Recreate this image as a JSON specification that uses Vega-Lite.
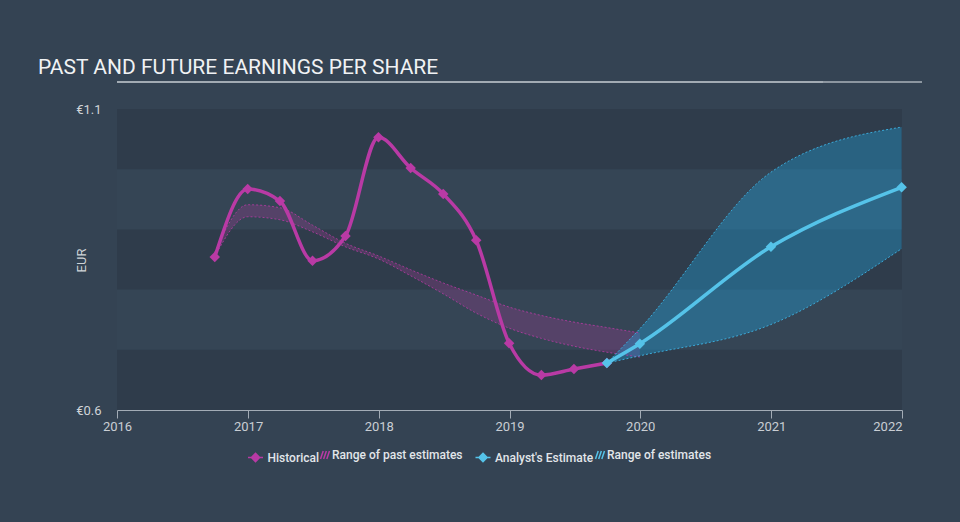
{
  "$schema": "https://vega.github.io/schema/vega-lite/v6.json",
  "width": 785,
  "height": 301,
  "autosize": "none",
  "padding": {"left": 117, "top": 109, "right": 58, "bottom": 112},
  "background": "#344353",
  "title": {
    "text": "PAST AND FUTURE EARNINGS PER SHARE",
    "anchor": "start",
    "frame": "group",
    "dx": -79,
    "offset": -14,
    "baseline": "alphabetic",
    "font": "Roboto",
    "fontSize": 21,
    "fontWeight": "normal",
    "color": "#f0f2f4"
  },
  "config": {
    "view": {"fill": "#354555", "stroke": null},
    "axis": {"grid": false, "labelFont": "Roboto", "titleFont": "Roboto"},
    "legend": {
      "orient": "none",
      "direction": "horizontal",
      "title": null,
      "labelColor": "#e2e6ea",
      "labelFont": "Roboto",
      "labelFontSize": 12,
      "labelFontWeight": 500,
      "legendY": 340
    }
  },
  "resolve": {"scale": {"shape": "independent"}, "legend": {"shape": "independent"}},
  "datasets": {
    "bands": [
      {"lo": 1.0, "hi": 1.1},
      {"lo": 0.8, "hi": 0.9},
      {"lo": 0.6, "hi": 0.7}
    ],
    "hist": [
      {"date": "2016-09-30", "eps": 0.854},
      {"date": "2016-12-31", "eps": 0.967},
      {"date": "2017-03-31", "eps": 0.947},
      {"date": "2017-06-30", "eps": 0.848},
      {"date": "2017-09-30", "eps": 0.889},
      {"date": "2017-12-31", "eps": 1.053},
      {"date": "2018-03-31", "eps": 1.002},
      {"date": "2018-06-30", "eps": 0.959},
      {"date": "2018-09-30", "eps": 0.882},
      {"date": "2018-12-31", "eps": 0.711},
      {"date": "2019-03-31", "eps": 0.658},
      {"date": "2019-06-30", "eps": 0.668},
      {"date": "2019-09-30", "eps": 0.678}
    ],
    "est": [
      {"date": "2019-09-30", "eps": 0.678},
      {"date": "2019-12-31", "eps": 0.710},
      {"date": "2020-12-31", "eps": 0.871},
      {"date": "2021-12-31", "eps": 0.970}
    ],
    "pastRange": [
      {"date": "2016-09-30", "low": 0.855, "high": 0.862},
      {"date": "2016-12-31", "low": 0.921, "high": 0.941},
      {"date": "2017-03-31", "low": 0.916, "high": 0.936},
      {"date": "2017-06-30", "low": 0.896, "high": 0.907},
      {"date": "2017-09-30", "low": 0.871, "high": 0.877},
      {"date": "2017-12-31", "low": 0.851, "high": 0.856},
      {"date": "2018-03-31", "low": 0.823, "high": 0.833},
      {"date": "2018-06-30", "low": 0.793, "high": 0.811},
      {"date": "2018-09-30", "low": 0.761, "high": 0.791},
      {"date": "2018-12-31", "low": 0.736, "high": 0.771},
      {"date": "2019-03-31", "low": 0.719, "high": 0.757},
      {"date": "2019-06-30", "low": 0.706, "high": 0.746},
      {"date": "2019-09-30", "low": 0.696, "high": 0.737},
      {"date": "2019-12-31", "low": 0.688, "high": 0.728}
    ],
    "futRange": [
      {"date": "2019-09-30", "low": 0.678, "high": 0.678},
      {"date": "2019-12-31", "low": 0.690, "high": 0.735},
      {"date": "2020-12-31", "low": 0.742, "high": 0.995},
      {"date": "2021-12-31", "low": 0.868, "high": 1.070}
    ]
  },
  "encoding": {
    "x": {
      "field": "date",
      "type": "temporal",
      "scale": {"type": "utc", "domain": ["2016-01-01", "2022-01-01"], "nice": false},
      "axis": {
        "title": null,
        "format": "%Y",
        "tickCount": {"interval": "year", "step": 1},
        "labelFlush": false,
        "labelAlign": {"condition": {"test": "utcyear(datum.value) == 2022", "value": "right"}, "value": "center"},
        "labelColor": "#c9ced4",
        "labelFontSize": 13,
        "labelPadding": 2,
        "domainColor": "#a3acb6",
        "tickColor": "#a3acb6",
        "tickSize": 8
      }
    }
  },
  "layer": [
    {
      "data": {"name": "bands"},
      "mark": {"type": "rect", "color": "#2f3c4b"},
      "encoding": {
        "x": null,
        "y": {
          "field": "lo",
          "type": "quantitative",
          "scale": {"domain": [0.6, 1.1], "nice": false, "zero": false},
          "axis": {
            "values": [0.6, 1.1],
            "labelExpr": "'€' + format(datum.value, '.1f')",
            "domain": false,
            "ticks": false,
            "labelPadding": 16,
            "labelColor": "#d0d4d8",
            "labelFontSize": 13,
            "title": "EUR",
            "titleColor": "#d0d4d8",
            "titleFontSize": 13,
            "titleFontWeight": "normal",
            "titleAngle": -90,
            "titleX": -36,
            "titleY": 151,
            "titleAlign": "center",
            "titleBaseline": "middle"
          }
        },
        "y2": {"field": "hi"}
      }
    },
    {
      "data": {"values": [{}]},
      "mark": {"type": "rule", "stroke": "#aab2ba", "strokeWidth": 1.5, "clip": false, "xOffset": -79},
      "encoding": {
        "x": null,
        "y": {"datum": 1.1449, "type": "quantitative"}
      }
    },
    {
      "data": {"values": [{}]},
      "mark": {"type": "rule", "stroke": "#aab2ba", "strokeWidth": 1.5, "clip": false, "xOffset": 20},
      "encoding": {
        "x": null,
        "y": {"datum": 1.1449, "type": "quantitative"}
      }
    },
    {
      "data": {"name": "pastRange"},
      "mark": {"type": "area", "interpolate": "monotone", "color": "#b93aa5", "fillOpacity": 0.25},
      "encoding": {
        "y": {"field": "low", "type": "quantitative"},
        "y2": {"field": "high"}
      }
    },
    {
      "data": {"name": "futRange"},
      "mark": {"type": "area", "interpolate": "monotone", "color": "#20a8e8", "fillOpacity": 0.35},
      "encoding": {
        "y": {"field": "low", "type": "quantitative"},
        "y2": {"field": "high"}
      }
    },
    {
      "data": {"name": "pastRange"},
      "mark": {"type": "line", "interpolate": "monotone", "color": "#b93aa5", "strokeWidth": 1, "strokeDash": [2, 2], "opacity": 0.8},
      "encoding": {"y": {"field": "low", "type": "quantitative"}}
    },
    {
      "data": {"name": "pastRange"},
      "mark": {"type": "line", "interpolate": "monotone", "color": "#b93aa5", "strokeWidth": 1, "strokeDash": [2, 2], "opacity": 0.8},
      "encoding": {"y": {"field": "high", "type": "quantitative"}}
    },
    {
      "data": {"name": "futRange"},
      "mark": {"type": "line", "interpolate": "monotone", "color": "#3cb4e4", "strokeWidth": 1, "strokeDash": [2, 2], "opacity": 0.9},
      "encoding": {"y": {"field": "low", "type": "quantitative"}}
    },
    {
      "data": {"name": "futRange"},
      "mark": {"type": "line", "interpolate": "monotone", "color": "#3cb4e4", "strokeWidth": 1, "strokeDash": [2, 2], "opacity": 0.9},
      "encoding": {"y": {"field": "high", "type": "quantitative"}}
    },
    {
      "data": {"name": "hist"},
      "mark": {"type": "line", "interpolate": "monotone", "strokeWidth": 3.5, "color": "#b93aa5"},
      "encoding": {"y": {"field": "eps", "type": "quantitative"}}
    },
    {
      "data": {"name": "hist"},
      "mark": {"type": "point", "shape": "diamond", "filled": true, "size": 110, "color": "#b93aa5", "opacity": 1},
      "encoding": {"y": {"field": "eps", "type": "quantitative"}}
    },
    {
      "data": {"name": "est"},
      "mark": {"type": "line", "interpolate": "monotone", "strokeWidth": 3.5, "color": "#55c3e9"},
      "encoding": {"y": {"field": "eps", "type": "quantitative"}}
    },
    {
      "data": {"name": "est"},
      "mark": {"type": "point", "shape": "diamond", "filled": true, "size": 110, "color": "#55c3e9", "opacity": 1},
      "encoding": {"y": {"field": "eps", "type": "quantitative"}}
    },
    {
      "data": {"values": []},
      "mark": {"type": "point", "filled": true, "fill": "#b93aa5", "stroke": "#b93aa5", "strokeWidth": 2, "opacity": 1},
      "encoding": {
        "shape": {
          "datum": "Historical",
          "scale": {"domain": ["Historical"], "range": ["M-1,0H1M0,-0.55L0.55,0L0,0.55L-0.55,0Z"]},
          "legend": {"legendX": 130, "symbolSize": 225, "labelOffset": 3.5}
        }
      }
    },
    {
      "data": {"values": []},
      "mark": {"type": "point", "filled": true, "fill": "#b93aa5", "stroke": "#b93aa5", "strokeWidth": 1.2, "opacity": 1},
      "encoding": {
        "shape": {
          "datum": "Range of past estimates",
          "scale": {"domain": ["Range of past estimates"], "range": ["M-1,0.9L-0.4,-0.9M-0.3,0.9L0.3,-0.9M0.4,0.9L1,-0.9"]},
          "legend": {"legendX": 202, "symbolSize": 81, "labelOffset": 1}
        }
      }
    },
    {
      "data": {"values": []},
      "mark": {"type": "point", "filled": true, "fill": "#55c3e9", "stroke": "#55c3e9", "strokeWidth": 2, "opacity": 1},
      "encoding": {
        "shape": {
          "datum": "Analyst's Estimate",
          "scale": {"domain": ["Analyst's Estimate"], "range": ["M-1,0H1M0,-0.55L0.55,0L0,0.55L-0.55,0Z"]},
          "legend": {"legendX": 357.5, "symbolSize": 225, "labelOffset": 3.5}
        }
      }
    },
    {
      "data": {"values": []},
      "mark": {"type": "point", "filled": true, "fill": "#55c3e9", "stroke": "#55c3e9", "strokeWidth": 1.2, "opacity": 1},
      "encoding": {
        "shape": {
          "datum": "Range of estimates",
          "scale": {"domain": ["Range of estimates"], "range": ["M-1,0.9L-0.4,-0.9M-0.3,0.9L0.3,-0.9M0.4,0.9L1,-0.9"]},
          "legend": {"legendX": 477, "symbolSize": 81, "labelOffset": 1}
        }
      }
    }
  ]
}
